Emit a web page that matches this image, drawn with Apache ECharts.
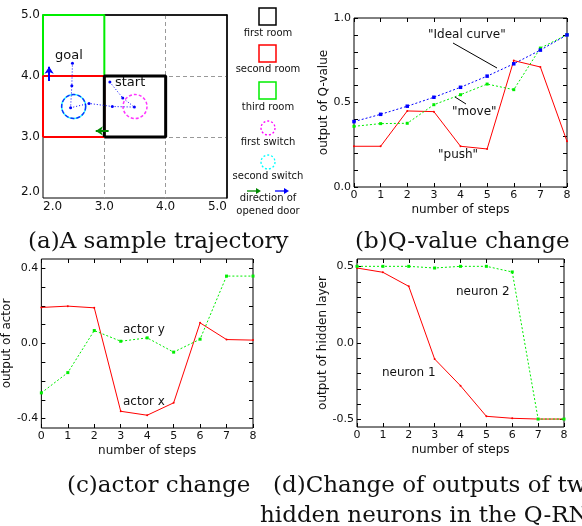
<!DOCTYPE html>
<html>
<head>
<meta charset="utf-8">
<script src="https://cdn.jsdelivr.net/npm/echarts@6/dist/echarts.min.js"></script>
<style>
html,body{margin:0;padding:0;background:#fff;}
#show{width:582px;height:526px;}
</style>
</head>
<body>
<div id="show"></div>
<script>
// (a) 房间与轨迹
var firstRoom = [[3,3],[4,3],[4,4],[3,4],[3,3]];
var secondRoom = [[2,3],[3,3],[3,4],[2,4],[2,3]];
var thirdRoom = [[2,4],[3,4],[3,5],[2,5],[2,4]];
var firstSwitch = [[3.5,3.5]];
var secondSwitch = [[2.5,3.5]];
var trajectory = [[3.09,3.9],[3.3,3.64],[3.49,3.49],[3.13,3.5],[2.75,3.55],[2.45,3.48],[2.47,3.84],[2.48,4.21]];
var greenDoor = [[3.07,3.1],[2.86,3.1]];
var blueDoor = [[2.1,3.92],[2.1,4.15]];

// 步数
var steps = [0,1,2,3,4,5,6,7,8];

// (b) Q值
var idealCurve = [0.387,0.430,0.478,0.531,0.590,0.656,0.729,0.810,0.900];
var moveQ = [0.359,0.375,0.377,0.487,0.546,0.609,0.576,0.822,0.901];
var pushQ = [0.241,0.241,0.450,0.446,0.241,0.225,0.748,0.710,0.270];
var qTicks = [0,0.1,0.2,0.3,0.4,0.5,0.6,0.7,0.8,0.9,1.0];
var qLabels = [0,0.5,1.0];

// (c) actor
var actorX = [0.192,0.199,0.190,-0.361,-0.382,-0.316,0.110,0.021,0.018];
var actorY = [-0.263,-0.155,0.069,0.012,0.030,-0.046,0.023,0.359,0.359];
var actorTicks = [-0.4,-0.3,-0.2,-0.1,0,0.1,0.2,0.3,0.4];
var actorLabels = [-0.4,0,0.4];

// (d) 隐藏层
var neuron1 = [0.491,0.463,0.371,-0.105,-0.280,-0.480,-0.493,-0.498,-0.498];
var neuron2 = [0.502,0.502,0.502,0.491,0.502,0.502,0.465,-0.498,-0.498];
var hiddenTicks = [-0.5,-0.4,-0.3,-0.2,-0.1,0,0.1,0.2,0.3,0.4,0.5];
var hiddenLabels = [-0.5,0,0.5];

var RED = '#ff0000', GREEN = '#00ee00', BLUE = '#0000ff';
var SANS = 'DejaVu Sans';

function pairs(ys){
	var out = [];
	for(var i=0;i<steps.length;i++){
		out.push([steps[i], ys[i]]);
	}
	return out;
}

var myEchart = echarts.init(document.getElementById("show"));

var grids = [
	{left:43, top:15, width:184, height:183},
	{left:354, top:18, width:213, height:169},
	{left:41, top:259, width:212, height:169},
	{left:357, top:259, width:207, height:168}
];
for(var g=0;g<grids.length;g++){
	grids[g].show = true;
	grids[g].borderColor = '#000';
	grids[g].borderWidth = 1;
	grids[g].backgroundColor = '#fff';
}

var xAxes = [];
var yAxes = [];

// (a) 轴
xAxes.push({
	gridIndex:0, type:'value', min:2, max:5, interval:1,
	axisLine:{show:false, onZero:false}, axisTick:{show:false},
	axisLabel:{margin:3, fontFamily:SANS, fontSize:12, color:'#111', alignMinLabel:'left', alignMaxLabel:'right',
		formatter:function(v){return v.toFixed(1);}},
	splitLine:{show:true, showMinLine:false, showMaxLine:false, lineStyle:{color:'#999', type:[4,3], width:1}}
});
yAxes.push({
	gridIndex:0, type:'value', min:2, max:5, interval:1,
	axisLine:{show:false, onZero:false}, axisTick:{show:false},
	axisLabel:{margin:3, fontFamily:SANS, fontSize:12, color:'#111', verticalAlignMinLabel:'bottom',
		formatter:function(v){return v.toFixed(1);}},
	splitLine:{show:true, showMinLine:false, showMaxLine:false, lineStyle:{color:'#999', type:[4,3], width:1}}
});

function stepAxes(gi, name, yName, ticks, labels, mn, mx, yGap){
	xAxes.push({
		gridIndex:gi, type:'value', min:0, max:8, interval:1, position:'bottom',
		name:name, nameLocation:'middle', nameGap:17,
		nameTextStyle:{fontFamily:SANS, fontSize:12, color:'#111'},
		axisLine:{show:false, onZero:false},
		axisTick:{show:true, inside:true, length:4, lineStyle:{color:'#000'}},
		axisLabel:{margin:3, fontFamily:SANS, fontSize:11, color:'#111'},
		splitLine:{show:false}
	});
	xAxes.push({
		gridIndex:gi, type:'value', min:0, max:8, interval:1, position:'top',
		axisLine:{show:false, onZero:false},
		axisTick:{show:true, inside:true, length:4, lineStyle:{color:'#000'}},
		axisLabel:{show:false}, splitLine:{show:false}
	});
	yAxes.push({
		gridIndex:gi, type:'value', min:mn, max:mx, position:'left',
		name:yName, nameLocation:'middle', nameGap:yGap,
		nameTextStyle:{fontFamily:SANS, fontSize:12, color:'#111'},
		axisLine:{show:false, onZero:false},
		axisTick:{show:true, inside:true, length:4, customValues:ticks, lineStyle:{color:'#000'}},
		axisLabel:{margin:3, fontFamily:SANS, fontSize:11, color:'#111', customValues:labels,
			formatter:function(v){return v.toFixed(1);}},
		splitLine:{show:false}
	});
	yAxes.push({
		gridIndex:gi, type:'value', min:mn, max:mx, position:'right',
		axisLine:{show:false, onZero:false},
		axisTick:{show:true, inside:true, length:4, customValues:ticks, lineStyle:{color:'#000'}},
		axisLabel:{show:false}, splitLine:{show:false}
	});
}
stepAxes(1, 'number of steps', 'output of Q-value', qTicks, qLabels, 0, 1, 22);
stepAxes(2, 'number of steps', 'output of actor', actorTicks, actorLabels, -0.45, 0.45, 23);
stepAxes(3, 'number of steps', 'output of hidden layer', hiddenTicks, hiddenLabels, -0.55, 0.55, 24);
// 轴的下标: b -> x1,y1 ; c -> x3,y3 ; d -> x5,y5

// (a) 的上边框和右边框
xAxes.push({
	gridIndex:0, type:'value', min:2, max:5, position:'top',
	axisLine:{show:true, onZero:false, lineStyle:{color:'#000', width:1.5}},
	axisTick:{show:false}, axisLabel:{show:false}, splitLine:{show:false}
});
yAxes.push({
	gridIndex:0, type:'value', min:2, max:5, position:'right',
	axisLine:{show:true, onZero:false, lineStyle:{color:'#000', width:1.5}},
	axisTick:{show:false}, axisLabel:{show:false}, splitLine:{show:false}
});

function roomSeries(data, color, width){
	return {type:'line', xAxisIndex:0, yAxisIndex:0, data:data, symbol:'none', silent:true,
		lineStyle:{color:color, width:width}, z:3};
}

function stepLine(xi, yi, ys, color, dotted, sym, size){
	return {
		type:'line', xAxisIndex:xi, yAxisIndex:yi, data:pairs(ys),
		symbol:sym, symbolSize:size, showSymbol:true,
		itemStyle:{color:color, borderWidth:0},
		lineStyle:{color:color, width:1, type: dotted ? [2,2] : 'solid'},
		z:3, silent:true
	};
}

var series = [
	roomSeries(thirdRoom, GREEN, 2),
	roomSeries(secondRoom, RED, 2),
	roomSeries(firstRoom, '#000', 3),
	{type:'scatter', xAxisIndex:0, yAxisIndex:0, data:firstSwitch, symbol:'circle', symbolSize:24,
		itemStyle:{color:'transparent', borderColor:'#ff00ff', borderWidth:1.5, borderType:[3,2]}, z:4},
	{type:'scatter', xAxisIndex:0, yAxisIndex:0, data:secondSwitch, symbol:'circle', symbolSize:24,
		itemStyle:{color:'transparent', borderColor:'#00ffff', borderWidth:1.5}, z:4},
	{type:'scatter', xAxisIndex:0, yAxisIndex:0, data:secondSwitch, symbol:'circle', symbolSize:24,
		itemStyle:{color:'transparent', borderColor:BLUE, borderWidth:1.5, borderType:[4,2]}, z:4},
	{type:'line', xAxisIndex:0, yAxisIndex:0, data:trajectory, symbol:'circle', symbolSize:3,
		itemStyle:{color:BLUE}, lineStyle:{color:BLUE, width:1, type:[1,2]}, z:5},
	{type:'lines', coordinateSystem:'cartesian2d', xAxisIndex:0, yAxisIndex:0,
		symbol:['none','arrow'], symbolSize:7, lineStyle:{color:'#008800', width:2, opacity:1},
		data:[{coords:greenDoor}], z:6},
	{type:'lines', coordinateSystem:'cartesian2d', xAxisIndex:0, yAxisIndex:0,
		symbol:['none','arrow'], symbolSize:7, lineStyle:{color:BLUE, width:2, opacity:1},
		data:[{coords:blueDoor}], z:6},

	stepLine(1, 1, pushQ, RED, false, 'circle', 2),
	stepLine(1, 1, moveQ, GREEN, true, 'rect', 3),
	stepLine(1, 1, idealCurve, BLUE, true, 'rect', 3.5),

	stepLine(3, 3, actorX, RED, false, 'circle', 2),
	stepLine(3, 3, actorY, GREEN, true, 'rect', 3),

	stepLine(5, 5, neuron1, RED, false, 'circle', 2),
	stepLine(5, 5, neuron2, GREEN, true, 'rect', 3)
];

function txt(x, y, s, size, font, align){
	return {type:'text', x:x, y:y, z:100, style:{text:s, fontFamily:font || SANS, fontSize:size || 12,
		fill:'#111', align:align || 'left', verticalAlign:'middle'}};
}
function seg(x1, y1, x2, y2, color, w){
	return {type:'line', z:100, shape:{x1:x1, y1:y1, x2:x2, y2:y2}, style:{stroke:color, lineWidth:w || 1}};
}
function head(x, y, color){
	// 小箭头
	return {type:'polygon', z:100, shape:{points:[[x,y],[x-5,y-3],[x-5,y+3]]}, style:{fill:color}};
}

var SERIF = 'DejaVu Serif';
var graphics = [
	// (a) 图例
	{type:'rect', z:100, shape:{x:259, y:8, width:17, height:17}, style:{fill:'none', stroke:'#000', lineWidth:1.5}},
	txt(268, 33, 'first room', 10, SANS, 'center'),
	{type:'rect', z:100, shape:{x:259, y:45, width:17, height:17}, style:{fill:'none', stroke:RED, lineWidth:1.5}},
	txt(268, 69, 'second room', 10, SANS, 'center'),
	{type:'rect', z:100, shape:{x:259, y:82, width:17, height:17}, style:{fill:'none', stroke:GREEN, lineWidth:1.5}},
	txt(268, 107, 'third room', 10, SANS, 'center'),
	{type:'circle', z:100, shape:{cx:268, cy:128, r:7}, style:{fill:'none', stroke:'#ff00ff', lineWidth:1.3, lineDash:[2,2]}},
	txt(268, 142, 'first switch', 10, SANS, 'center'),
	{type:'circle', z:100, shape:{cx:268, cy:162, r:7}, style:{fill:'none', stroke:'#00ffff', lineWidth:1.3, lineDash:[2,2]}},
	txt(268, 176, 'second switch', 10, SANS, 'center'),
	seg(247, 191, 259, 191, '#008800', 1.3), head(261, 191, '#008800'),
	seg(275, 191, 287, 191, BLUE, 1.3), head(289, 191, BLUE),
	txt(268, 198, 'direction of', 10, SANS, 'center'),
	txt(268, 211, 'opened door', 10, SANS, 'center'),
	txt(55, 56, 'goal', 13),
	txt(115, 83, 'start', 13),

	// (b) 注释
	txt(428, 35, '"Ideal curve"', 12),
	seg(453, 43, 497, 68, '#000', 1),
	txt(452, 112, '"move"', 12),
	seg(455, 97, 466, 104, '#000', 1),
	txt(438, 155, '"push"', 12),

	// (c)
	txt(123, 330, 'actor y', 12),
	txt(123, 402, 'actor x', 12),

	// (d)
	txt(456, 292, 'neuron 2', 12),
	txt(382, 373, 'neuron 1', 12),

	// 标题
	txt(28, 242, '(a)A sample trajectory', 23, SERIF),
	txt(355, 242, '(b)Q-value change', 23, SERIF),
	txt(67, 486, '(c)actor change', 23, SERIF),
	txt(273, 486, '(d)Change of outputs of two', 23, SERIF),
	txt(260, 516, 'hidden neurons in the Q-RNN', 23, SERIF)
];

var option = {
	animation:false,
	backgroundColor:'#fff',
	grid:grids,
	xAxis:xAxes,
	yAxis:yAxes,
	series:series,
	graphic:graphics
};
myEchart.setOption(option);
</script>
</body>
</html>
